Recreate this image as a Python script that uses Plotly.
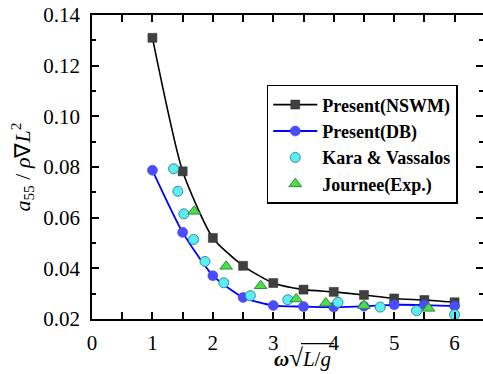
import plotly.graph_objects as go

# Pitch added-mass coefficient vs. non-dimensional frequency
x_present = [1.0, 1.5, 2.0, 2.5, 3.0, 3.5, 4.0, 4.5, 5.0, 5.5, 6.0]
a55_nswm = [0.131, 0.0783, 0.052, 0.041, 0.0342, 0.0316, 0.0307, 0.0295, 0.0281, 0.0275, 0.0266]
a55_db = [0.0787, 0.0542, 0.0371, 0.0285, 0.0253, 0.0249, 0.0247, 0.025, 0.0256, 0.0255, 0.0251]

x_kara = [1.35, 1.42, 1.52, 1.68, 1.87, 2.18, 2.62, 3.24, 4.07, 4.77, 5.37, 6.0]
a55_kara = [0.0793, 0.0704, 0.0615, 0.0514, 0.0427, 0.0343, 0.0292, 0.0276, 0.0266, 0.0247, 0.0233, 0.0217]

x_journee = [1.69, 2.22, 2.79, 3.38, 3.87, 4.50, 5.57]
a55_journee = [0.0625, 0.0408, 0.0331, 0.0279, 0.0263, 0.0253, 0.0242]

SERIF = "Liberation Serif"

fig = go.Figure()
fig.add_trace(go.Scatter(
    x=x_present, y=a55_nswm, mode="lines+markers", name="Present(NSWM)",
    line=dict(color="black", width=1.6, shape="spline", smoothing=0.6),
    marker=dict(symbol="square", size=9, color="#404040", line=dict(color="#2a2a2a", width=0.5)),
))
fig.add_trace(go.Scatter(
    x=x_present, y=a55_db, mode="lines+markers", name="Present(DB)",
    line=dict(color="#0000ff", width=1.8, shape="spline", smoothing=0.6),
    marker=dict(symbol="circle", size=10, color="#4c4cff", line=dict(color="#3a3aee", width=0.5)),
))
fig.add_trace(go.Scatter(
    x=x_kara, y=a55_kara, mode="markers", name="Kara & Vassalos",
    marker=dict(symbol="circle", size=10, color="#5cecf4", line=dict(color="#2f8f9a", width=1)),
))
fig.add_trace(go.Scatter(
    x=x_journee, y=a55_journee, mode="markers", name="Journee(Exp.)",
    marker=dict(symbol="triangle-up", size=11, color="#4cdc4c", line=dict(color="#2f8f2f", width=1)),
))
# right-hand tick marks (no frame line on that side)
fig.add_trace(go.Scatter(x=[None], y=[None], yaxis="y2", showlegend=False, hoverinfo="skip"))

tickfont = dict(family=SERIF, size=21, color="black")
fig.update_layout(
    width=483, height=374,
    margin=dict(l=92, r=0, t=15, b=55),
    paper_bgcolor="white", plot_bgcolor="white",
    showlegend=True,
    xaxis=dict(
        range=[0, 6.47], tickvals=[0, 1, 2, 3, 4, 5, 6], ticks="inside", ticklen=7, tickwidth=1.5,
        tickcolor="black", showline=True, linecolor="black", linewidth=1.5, mirror="allticks",
        showgrid=False, zeroline=False, tickfont=tickfont, ticklabelstandoff=4,
        minor=dict(dtick=0.5, tick0=0, ticks="inside", ticklen=4, tickwidth=1.5, tickcolor="black", showgrid=False),
    ),
    yaxis=dict(
        range=[0.02, 0.14], tickvals=[0.02, 0.04, 0.06, 0.08, 0.10, 0.12, 0.14],
        ticktext=["0.02", "0.04", "0.06", "0.08", "0.10", "0.12", "0.14"],
        ticks="inside", ticklen=7, tickwidth=1.5, tickcolor="black",
        showline=True, linecolor="black", linewidth=1.5, mirror=False,
        showgrid=False, zeroline=False, tickfont=tickfont, ticklabelstandoff=6,
        minor=dict(dtick=0.01, tick0=0.02, ticks="inside", ticklen=4, tickwidth=1.5, tickcolor="black", showgrid=False),
    ),
    yaxis2=dict(
        range=[0.02, 0.14], overlaying="y", side="right", tickvals=[0.02, 0.04, 0.06, 0.08, 0.10, 0.12, 0.14],
        ticks="inside", ticklen=7, tickwidth=1.5, tickcolor="black", showticklabels=False,
        showline=False, showgrid=False, zeroline=False,
        minor=dict(dtick=0.01, tick0=0.02, ticks="inside", ticklen=4, tickwidth=1.5, tickcolor="black", showgrid=False),
    ),
    legend=dict(
        x=0.447, y=0.77, xanchor="left", yanchor="top",
        bordercolor="black", borderwidth=1.5, bgcolor="white",
        font=dict(family=SERIF, size=18, color="black", weight="bold"),
        tracegroupgap=0, itemwidth=44,
    ),
)

# axis titles
fig.add_annotation(
    text="<i>a</i><sub>55</sub> / <i>ρ</i>∇<i>L</i><sup>2</sup>",
    xref="paper", yref="paper", x=-0.18, y=0.5, xanchor="center", yanchor="middle",
    textangle=-90, showarrow=False, font=dict(family=SERIF, size=22, color="black"),
)
fig.add_annotation(
    text="<b><i>ω</i></b><span style='font-size:25px'>√</span><i>L</i>/<i>g</i>",
    xref="paper", yref="paper", x=(272 - 92) / 391, y=(319.3 - 358) / 304.3,
    xanchor="left", yanchor="middle", showarrow=False,
    font=dict(family=SERIF, size=21, color="black"),
)
# vinculum over L/g
fig.add_shape(
    type="line", xref="paper", yref="paper",
    x0=(301 - 92) / 391, x1=(334 - 92) / 391,
    y0=(319.3 - 344) / 304.3, y1=(319.3 - 344) / 304.3,
    line=dict(color="black", width=1.2),
)

fig.write_html("out.html")
